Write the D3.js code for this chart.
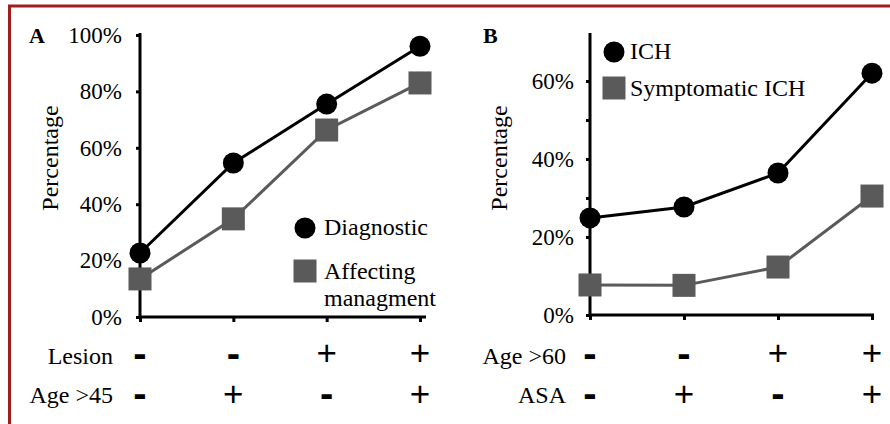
<!DOCTYPE html>
<html><head><meta charset="utf-8">
<script src="https://cdn.jsdelivr.net/npm/d3@7"></script>
<style>body{margin:0;background:#fff}svg{display:block}</style>
</head><body>
<svg id="c" width="890" height="424"></svg>
<script>
// ---- data ----
const categories = [0, 1, 2, 3];
const lesionRow = ["-", "-", "+", "+"];
const age45Row = ["-", "+", "-", "+"];
const age60Row = ["-", "-", "+", "+"];
const asaRow = ["-", "+", "-", "+"];
const diagnostic = [22.7, 54.6, 75.5, 96.0];
const affecting = [13.5, 34.8, 66.3, 83.0];
const ich = [24.9, 27.7, 36.4, 62.0];
const symptomaticIch = [7.7, 7.6, 12.3, 30.5];
const ticksA = [0, 20, 40, 60, 80, 100];
const ticksB = [0, 10, 20, 30, 40, 50, 60];
const labelsB = [0, 20, 40, 60];

const svg = d3.select("#c");
const serif = "'Liberation Serif','Times New Roman',serif";
const sans = "'Liberation Sans',Arial,sans-serif";
const GRAY = "#5a5a5a";

// frame
svg.append("line").attr("x1", 8).attr("x2", 890).attr("y1", 6).attr("y2", 6)
  .attr("stroke", "#a21d1d").attr("stroke-width", 3);
svg.append("line").attr("x1", 9.5).attr("x2", 9.5).attr("y1", 5).attr("y2", 424)
  .attr("stroke", "#a21d1d").attr("stroke-width", 3);

function panel(cfg) {
  const g = svg.append("g");
  const x = d3.scalePoint().domain(categories).range(cfg.xr);
  const y = d3.scaleLinear().domain(cfg.yd).range(cfg.yr);

  // y axis
  const ya = g.append("g").attr("transform", `translate(${cfg.xr[0]},0)`)
    .call(d3.axisLeft(y).tickValues(cfg.ticks).tickSize(4).tickSizeOuter(0).tickPadding(cfg.pad)
      .tickFormat(d => cfg.labels.includes(d) ? d + "%" : ""));
  ya.select(".domain").attr("stroke", "#000").attr("stroke-width", 3);
  ya.selectAll(".tick line").attr("stroke", "#000").attr("stroke-width", 3);
  ya.selectAll(".tick text").attr("font-family", serif).attr("font-size", 23).attr("fill", "#000");
  ya.select(".domain").attr("d", `M0,${cfg.yr[0] + 1.5}V${cfg.ytop}`);

  // x axis
  const xa = g.append("g").attr("transform", `translate(0,${cfg.yr[0]})`)
    .call(d3.axisBottom(x).tickSize(5).tickSizeOuter(0).tickFormat(""));
  xa.select(".domain").attr("stroke", "#000").attr("stroke-width", 3)
    .attr("d", `M${cfg.xr[0] - 1.5},0H${cfg.xr[1] + cfg.xext}`);
  xa.selectAll(".tick line").attr("stroke", "#000").attr("stroke-width", 3);

  // lines
  const line = d3.line().x((d, i) => x(categories[i])).y(d => y(d));
  g.append("path").datum(cfg.s2).attr("d", line).attr("fill", "none")
    .attr("stroke", GRAY).attr("stroke-width", 3);
  g.append("path").datum(cfg.s1).attr("d", line).attr("fill", "none")
    .attr("stroke", "#000").attr("stroke-width", 3);
  g.selectAll(".sq").data(cfg.s2).join("rect")
    .attr("x", (d, i) => x(categories[i]) - 11.5).attr("y", d => y(d) - 11.5)
    .attr("width", 23).attr("height", 23).attr("fill", GRAY);
  g.selectAll(".ci").data(cfg.s1).join("circle")
    .attr("cx", (d, i) => x(categories[i])).attr("cy", d => y(d)).attr("r", 10.5).attr("fill", "#000");

  // panel letter
  g.append("text").attr("x", cfg.letterX).attr("y", 43).text(cfg.letter)
    .attr("font-family", serif).attr("font-weight", "bold").attr("font-size", 22);

  // y title
  g.append("text").attr("transform", `translate(${cfg.titleX},${cfg.titleY}) rotate(-90)`)
    .attr("text-anchor", "middle").text("Percentage")
    .attr("font-family", serif).attr("font-size", 24);

  // condition rows
  [[cfg.row1Name, cfg.row1, 364], [cfg.row2Name, cfg.row2, 403]].forEach(([name, vals, by], r) => {
    g.append("text").attr("x", cfg.rowLabelX).attr("y", by).attr("text-anchor", "end")
      .text(name).attr("font-family", serif).attr("font-size", 24);
    g.selectAll(null).data(vals).join("text")
      .attr("x", (d, i) => x(categories[i])).attr("y", d => d === "+" ? (r ? 405.5 : 365) : (r ? 407 : 367))
      .attr("text-anchor", "middle").text(d => d)
      .attr("font-family", sans).attr("font-weight", d => d === "-" ? "bold" : "normal")
      .attr("font-size", d => d === "+" ? 35 : 40);
  });

  // legend
  const L = cfg.legend;
  g.append("circle").attr("cx", L.x).attr("cy", L.y1).attr("r", 10.5).attr("fill", "#000");
  g.append("rect").attr("x", L.x - 11.5).attr("y", L.y2 - 11.5).attr("width", 23).attr("height", 23).attr("fill", GRAY);
  g.append("text").attr("x", L.tx).attr("y", L.y1 + 7).text(L.t1)
    .attr("font-family", serif).attr("font-size", 24);
  L.t2.forEach((t, i) => {
    g.append("text").attr("x", L.tx).attr("y", L.y2 + 8 + i * 27).text(t)
      .attr("font-family", serif).attr("font-size", 24);
  });
}

panel({
  xr: [140, 420], xext: 6, yd: [0, 100], yr: [317, 35], ytop: 33,
  ticks: ticksA, labels: ticksA, pad: 14,
  s1: diagnostic, s2: affecting,
  letter: "A", letterX: 29, titleX: 58, titleY: 158,
  row1Name: "Lesion", row1: lesionRow, row2Name: "Age >45", row2: age45Row, rowLabelX: 113,
  legend: { x: 305, y1: 228, y2: 271, tx: 324, t1: "Diagnostic", t2: ["Affecting", "managment"] }
});

panel({
  xr: [590, 872], xext: 2, yd: [0, 60], yr: [315, 81], ytop: 33,
  ticks: ticksB, labels: labelsB, pad: 12,
  s1: ich, s2: symptomaticIch,
  letter: "B", letterX: 483, titleX: 507, titleY: 158,
  row1Name: "Age >60", row1: age60Row, row2Name: "ASA", row2: asaRow, rowLabelX: 566,
  legend: { x: 614, y1: 52, y2: 88, tx: 630, t1: "ICH", t2: ["Symptomatic ICH"] }
});
</script>
</body></html>
